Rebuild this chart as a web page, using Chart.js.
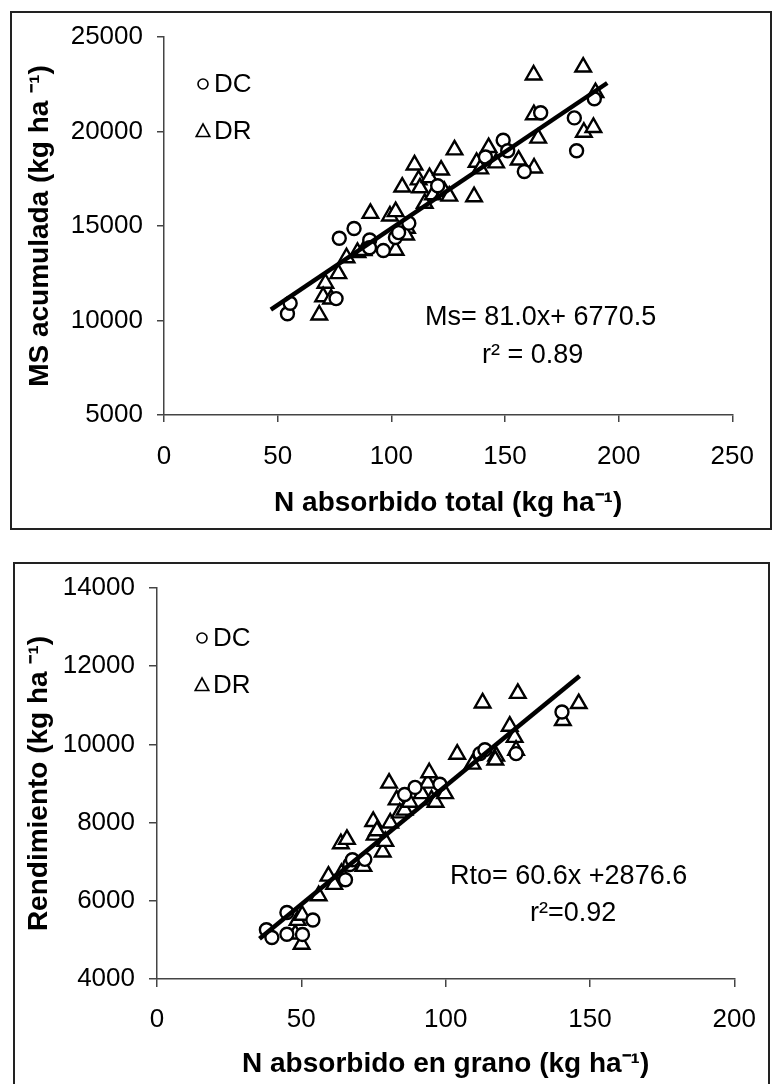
<!DOCTYPE html>
<html>
<head>
<meta charset="utf-8">
<script src="https://cdn.jsdelivr.net/npm/chart.js@4.4.1/dist/chart.umd.min.js"></script>
<style>
  html, body { margin: 0; padding: 0; background: #fff; overflow: hidden; }
  body { width: 776px; height: 1084px; position: relative; }
  .frame { position: absolute; border: 2px solid #222; box-sizing: border-box; }
  #frameTop { left: 10px; top: 11px; width: 762px; height: 519px; }
  #frameBottom { left: 13px; top: 562px; width: 757px; height: 530px; }
  canvas { position: absolute; left: 0; }
  #msChart { top: 0; }
  #rtoChart { top: 540px; }
</style>
</head>
<body>
<div class="frame" id="frameTop"></div>
<div class="frame" id="frameBottom"></div>
<canvas id="msChart" width="776" height="540"></canvas>
<canvas id="rtoChart" width="776" height="544"></canvas>
<script>
// --- top chart: MS acumulada vs N absorbido total ---
const msDcX = [54.3, 55.5, 77.1, 83.6, 75.7, 90.5, 90.4, 96.5, 101.8, 103.2, 107.7, 120.4, 141.4, 149.2, 151.2, 158.5, 165.7, 180.5, 181.5, 189.3];
const msDcY = [10360, 10910, 14350, 14870, 11160, 14260, 13850, 13700, 14390, 14650, 15150, 17130, 18650, 19540, 18980, 17880, 20990, 20720, 18985, 21730];
const msDrX = [68.3, 71.0, 70.0, 73.5, 76.7, 80.3, 85.1, 87.8, 90.8, 99.4, 101.9, 101.9, 104.8, 106.9, 106.5, 110.2, 112.0, 112.6, 114.7, 116.8, 118.3, 121.9, 123.3, 125.5, 127.8, 136.4, 137.5, 139.1, 142.8, 146.1, 156.0, 162.6, 162.7, 162.8, 164.6, 184.4, 184.7, 188.9, 189.8];
const msDrY = [10290, 11970, 11260, 11140, 12480, 13320, 13600, 13700, 15670, 15530, 15760, 13720, 17060, 14880, 14520, 18230, 17440, 17020, 16200, 17560, 16650, 17960, 16830, 16580, 19030, 16550, 18370, 18020, 19150, 18340, 18490, 22990, 20890, 18070, 19650, 23410, 19960, 20215, 22060];
const msLineX = [47, 195];
const msLineY = [10578, 22566];

// --- bottom chart: Rendimiento vs N absorbido en grano ---
const rtoDcX = [37.9, 39.8, 45.0, 45.0, 50.4, 54.0, 65.3, 66.8, 67.7, 72.0, 85.8, 89.4, 98.0, 111.9, 113.6, 124.4, 140.3];
const rtoDcY = [5260, 5060, 5700, 5145, 5140, 5510, 6540, 6930, 7050, 7060, 8720, 8900, 8980, 9765, 9865, 9765, 10830];
const rtoDrX = [47.9, 48.7, 50.3, 50.1, 56.0, 59.4, 61.4, 63.9, 63.7, 65.8, 71.5, 74.9, 75.4, 76.2, 78.2, 79.1, 80.4, 80.8, 83.0, 84.1, 85.8, 87.5, 91.7, 93.8, 94.3, 95.1, 96.5, 99.8, 104.0, 109.3, 112.8, 117.5, 117.2, 122.2, 123.9, 125.0, 124.4, 140.6, 146.1];
const rtoDrY = [5150, 5500, 5630, 4890, 6130, 6630, 6420, 6700, 7460, 7570, 6880, 8030, 7680, 7790, 7250, 7520, 9010, 7990, 8580, 8250, 8320, 8520, 8740, 9010, 9275, 8580, 8520, 8740, 9750, 9495, 11060, 9700, 9600, 10465, 10180, 11305, 9850, 10610, 11045];
const rtoLineX = [35.5, 146.4];
const rtoLineY = [5028, 11748];

const FONT = '"Liberation Sans", Arial, Helvetica, sans-serif';
const pairs = (xs, ys) => xs.map((x, i) => ({ x: x, y: ys[i] }));

// legend keys and the regression text, drawn inside the plot
const notes = {
  id: 'notes',
  afterDraw(chart, args, o) {
    const ctx = chart.ctx;
    ctx.save();
    ctx.fillStyle = '#000';
    ctx.strokeStyle = '#000';
    ctx.textBaseline = 'middle';
    ctx.textAlign = 'left';
    (o.keys || []).forEach(k => {
      ctx.lineWidth = 1.6;
      ctx.beginPath();
      if (k.style === 'circle') {
        ctx.arc(k.x, k.y, 5, 0, Math.PI * 2);
      } else {
        ctx.moveTo(k.x, k.y - 7);
        ctx.lineTo(k.x + 6.8, k.y + 5.5);
        ctx.lineTo(k.x - 6.8, k.y + 5.5);
        ctx.closePath();
      }
      ctx.stroke();
      ctx.font = '26px ' + FONT;
      ctx.fillText(k.label, k.x + 11, k.y + 1);
    });
    ctx.font = '27px ' + FONT;
    (o.lines || []).forEach(l => ctx.fillText(l.text, l.x, l.y));
    ctx.restore();
  }
};

function scatterChart(id, p) {
  return new Chart(document.getElementById(id), {
    type: 'scatter',
    data: {
      datasets: [
        {
          label: 'fit',
          data: pairs(p.lineX, p.lineY),
          showLine: true,
          borderColor: '#000',
          borderWidth: 4.5,
          pointRadius: 0,
          borderCapStyle: 'butt'
        },
        {
          label: 'DC',
          data: p.dc,
          pointStyle: 'circle',
          pointRadius: 6.5,
          pointBorderWidth: 2.4,
          pointBackgroundColor: '#fff',
          pointBorderColor: '#000'
        },
        {
          label: 'DR',
          data: p.dr,
          pointStyle: 'triangle',
          pointRadius: 9,
          pointBorderWidth: 2.4,
          pointBackgroundColor: '#fff',
          pointBorderColor: '#000'
        }
      ]
    },
    options: {
      responsive: false,
      animation: false,
      devicePixelRatio: 1,
      events: [],
      layout: { padding: p.pad },
      plugins: {
        legend: { display: false },
        tooltip: { enabled: false },
        notes: { keys: p.keys, lines: p.lines }
      },
      scales: {
        x: {
          type: 'linear',
          min: 0,
          max: p.xMax,
          afterFit: s => { s.height = p.xHeight; },
          ticks: {
            stepSize: 50,
            maxRotation: 0,
            autoSkip: false,
            padding: p.xTickPad,
            color: '#000',
            font: { family: FONT, size: 26, lineHeight: 1 },
            callback: v => String(v)
          },
          grid: { drawOnChartArea: false, drawTicks: true, tickLength: p.tickLen, color: '#444', lineWidth: 1.5 },
          border: { display: true, color: '#444', width: 1.5 },
          title: {
            display: true,
            text: p.xTitle,
            color: '#000',
            font: { family: FONT, size: 28, weight: 'bold', lineHeight: 1 },
            padding: { top: 0, bottom: p.xTitlePad }
          }
        },
        y: {
          type: 'linear',
          min: p.yMin,
          max: p.yMax,
          afterFit: s => { s.width = p.yWidth; },
          ticks: {
            stepSize: p.yStep,
            autoSkip: false,
            padding: p.yTickPad,
            color: '#000',
            font: { family: FONT, size: 26, lineHeight: 1 },
            callback: v => String(v)
          },
          grid: { drawOnChartArea: false, drawTicks: true, tickLength: p.tickLen, color: '#444', lineWidth: 1.5 },
          border: { display: true, color: '#444', width: 1.5 },
          title: {
            display: true,
            text: p.yTitle,
            color: '#000',
            font: { family: FONT, size: 28, weight: 'bold', lineHeight: 1 },
            padding: { top: p.yTitlePad, bottom: 0 }
          }
        }
      }
    },
    plugins: [notes]
  });
}

scatterChart('msChart', {
  dc: pairs(msDcX, msDcY),
  dr: pairs(msDrX, msDrY),
  lineX: msLineX,
  lineY: msLineY,
  xMax: 250,
  yMin: 5000,
  yMax: 25000,
  yStep: 5000,
  pad: { left: 0, top: 37, right: 25, bottom: 0 },
  yWidth: 164,
  xHeight: 125,
  tickLen: 7,
  xTickPad: 22,
  yTickPad: 14,
  xTitlePad: 23,
  yTitlePad: 26,
  xTitle: 'N absorbido total (kg ha\u207B\u00B9)',
  yTitle: 'MS acumulada (kg ha \u207B\u00B9)',
  keys: [
    { style: 'circle', x: 203, y: 84, label: 'DC' },
    { style: 'triangle', x: 203, y: 131, label: 'DR' }
  ],
  lines: [
    { text: 'Ms= 81.0x+ 6770.5', x: 425, y: 318 },
    { text: 'r\u00B2 = 0.89', x: 482, y: 356 }
  ]
});

scatterChart('rtoChart', {
  dc: pairs(rtoDcX, rtoDcY),
  dr: pairs(rtoDrX, rtoDrY),
  lineX: rtoLineX,
  lineY: rtoLineY,
  xMax: 200,
  yMin: 4000,
  yMax: 14000,
  yStep: 2000,
  pad: { left: 0, top: 48, right: 33, bottom: 0 },
  yWidth: 157,
  xHeight: 105,
  tickLen: 8,
  xTickPad: 20,
  yTickPad: 14,
  xTitlePad: 6,
  yTitlePad: 25,
  xTitle: 'N absorbido en grano (kg ha\u207B\u00B9)',
  yTitle: 'Rendimiento (kg ha \u207B\u00B9)',
  keys: [
    { style: 'circle', x: 202, y: 98, label: 'DC' },
    { style: 'triangle', x: 202, y: 145, label: 'DR' }
  ],
  lines: [
    { text: 'Rto= 60.6x +2876.6', x: 450, y: 337 },
    { text: 'r\u00B2=0.92', x: 530, y: 374 }
  ]
});
</script>
</body>
</html>
